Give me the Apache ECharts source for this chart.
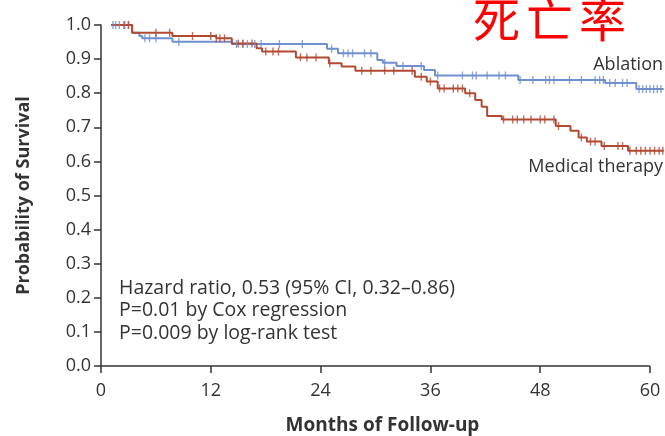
<!DOCTYPE html>
<html>
<head>
<meta charset="utf-8">
<script src="https://cdn.jsdelivr.net/npm/echarts@6/dist/echarts.min.js"></script>
<style>
  html, body { margin: 0; padding: 0; background: #fff; }
  #chart { width: 665px; height: 436px; }
</style>
</head>
<body>
<div id="chart"></div>
<script>
// Kaplan-Meier steps: [month, survival]
const ablationSteps = [
  [1.1, 1.0], [3.4, 0.977], [4.2, 0.968], [4.5, 0.961], [7.8, 0.951],
  [14.3, 0.944], [24.7, 0.930], [25.9, 0.917], [30.2, 0.897], [30.8, 0.889],
  [32.3, 0.880], [35.3, 0.868], [36.5, 0.852], [45.6, 0.839], [55.1, 0.830],
  [58.5, 0.812], [61.5, 0.812]
];
const medicalSteps = [
  [1.1, 1.0], [3.4, 0.977], [7.8, 0.968], [12.6, 0.961], [14.3, 0.946],
  [17.0, 0.932], [17.6, 0.922], [21.3, 0.905], [24.9, 0.888], [26.3, 0.878],
  [27.8, 0.866], [34.3, 0.848], [35.6, 0.834], [36.8, 0.814], [39.8, 0.800],
  [40.9, 0.780], [41.6, 0.760], [42.2, 0.733], [43.8, 0.723], [49.7, 0.704],
  [51.3, 0.690], [52.2, 0.670], [53.1, 0.658], [54.7, 0.645], [57.6, 0.631],
  [61.5, 0.631]
];
// censoring times (months)
const ablationCensored = [1.3, 1.6, 2.0, 2.6, 3.0, 4.8, 5.3, 6.0, 8.5, 14.8, 15.5, 16.0, 16.8,
  17.5, 19.5, 22.0, 25.2, 26.5, 27.0, 27.5, 28.8, 29.5, 31.0, 33.0, 35.0, 36.8, 39.5, 40.6,
  41.0, 42.2, 43.5, 44.2, 45.8, 47.2, 48.6, 49.0, 49.5, 51.2, 52.5, 54.0, 54.5, 54.9, 55.6,
  56.2, 57.0, 57.5, 58.8, 59.2, 59.6, 60.0, 60.4, 60.8, 61.2];
const medicalCensored = [2.5, 3.0, 6.0, 7.5, 10.0, 12.0, 12.6, 13.0, 13.5, 15.0, 15.5, 16.5,
  18.0, 18.8, 19.4, 21.8, 22.5, 23.5, 25.0, 28.5, 29.5, 31.0, 32.0, 34.0, 35.0, 36.0, 37.0,
  37.5, 38.5, 39.0, 39.5, 40.3, 44.0, 45.0, 45.5, 46.2, 47.0, 48.0, 48.5, 49.5, 50.0, 52.5,
  53.5, 54.0, 55.0, 56.5, 57.0, 57.8, 58.5, 59.0, 59.5, 60.0, 60.5, 61.0, 61.4];
const xTicks = [0, 12, 24, 36, 48, 60];
const yTicks = [0, 0.1, 0.2, 0.3, 0.4, 0.5, 0.6, 0.7, 0.8, 0.9, 1.0];
const statLines = [
  'Hazard ratio, 0.53 (95% CI, 0.32\u20130.86)',
  'P=0.01 by Cox regression',
  'P=0.009 by log-rank test'
];
const titleChars = ['死', '亡', '率'];

const BLUE = '#6f8fcf';
const RED = '#b24a33';
const INK = '#333';
const FONT = '"Open Sans", "Noto Sans", sans-serif';

// survival value at time t on a step curve
function survAt(steps, t) {
  let v = steps[0][1];
  for (const [m, s] of steps) { if (m <= t) v = s; }
  return v;
}

const chart = echarts.init(document.getElementById('chart'));

const tickMark = {
  type: 'scatter', symbol: 'rect', symbolSize: [1.4, 8],
  silent: true, z: 3
};

chart.setOption({
  animation: false,
  textStyle: { fontFamily: FONT },
  // curves run a little past 60 months, axis line stops at 60
  grid: { left: 101, right: 1, top: 25, bottom: 70, outerBoundsMode: 'none' },
  xAxis: {
    type: 'value', min: 0, max: 61.53,
    name: 'Months of Follow-up', nameLocation: 'middle', nameGap: 50,
    nameTextStyle: { fontSize: 19, fontWeight: 'bold', color: INK, fontFamily: FONT },
    axisLine: { show: false },
    axisTick: { show: true, length: 7, customValues: xTicks, lineStyle: { color: INK, width: 1.5 } },
    axisLabel: { fontSize: 18, color: INK, margin: 16, customValues: xTicks },
    splitLine: { show: false }
  },
  yAxis: {
    type: 'value', min: 0, max: 1, interval: 0.1,
    name: 'Probability of Survival', nameLocation: 'middle', nameGap: 68,
    nameTextStyle: { fontSize: 18, fontWeight: 'bold', color: INK, fontFamily: FONT },
    axisLine: { show: true, lineStyle: { color: INK, width: 1.5 } },
    axisTick: { show: true, length: 7, lineStyle: { color: INK, width: 1.5 } },
    axisLabel: {
      fontSize: 18, color: INK, margin: 10,
      formatter: v => yTicks.some(t => Math.abs(t - v) < 1e-6) ? v.toFixed(1) : ''
    },
    splitLine: { show: false }
  },
  series: [
    {
      type: 'line', name: 'Ablation', step: 'end', data: ablationSteps,
      showSymbol: false, z: 2,
      lineStyle: { color: BLUE, width: 2 },
      markLine: {
        silent: true, symbol: 'none', label: { show: false },
        lineStyle: { color: INK, width: 1.5, type: 'solid' },
        data: [[{ coord: [xTicks[0], 0] }, { coord: [xTicks[xTicks.length - 1], 0] }]]
      }
    },
    {
      type: 'line', name: 'Medical therapy', step: 'end', data: medicalSteps,
      showSymbol: false, z: 2,
      lineStyle: { color: RED, width: 2 }
    },
    Object.assign({}, tickMark, {
      itemStyle: { color: BLUE },
      data: ablationCensored.map(t => [t, survAt(ablationSteps, t)])
    }),
    Object.assign({}, tickMark, {
      itemStyle: { color: RED },
      data: medicalCensored.map(t => [t, survAt(medicalSteps, t)])
    })
  ],
  graphic: [
    {
      type: 'text', right: 2, top: 56,
      style: { text: 'Ablation', font: '18px ' + FONT, fill: INK }
    },
    {
      type: 'text', right: 2, top: 158,
      style: { text: 'Medical therapy', font: '18px ' + FONT, fill: INK }
    },
    ...statLines.map((s, i) => ({
      type: 'text', left: 119, top: 278 + i * 22.5,
      style: { text: s, font: '19.5px ' + FONT, fill: INK }
    })),
    ...titleChars.map((c, i) => ({
      type: 'text', left: 473 + i * 53, top: -4,
      style: { text: c, font: '47px "Noto Sans CJK SC"', fill: '#ff0000' }
    }))
  ]
});
</script>
</body>
</html>
